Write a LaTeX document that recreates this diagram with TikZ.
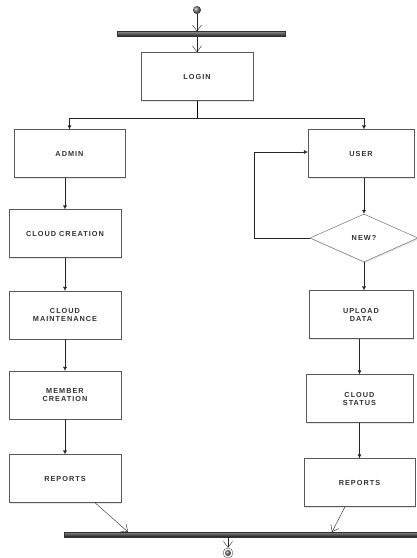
\documentclass[tikz,border=0pt]{standalone}
\usepackage{fontspec}
\setmainfont{Liberation Sans}
\usetikzlibrary{arrows.meta,shapes.geometric,shadows}
\tikzset{
	box/.style={draw=black!65,thin,fill=white,minimum width=112pt,minimum height=48pt,
			align=center,inner sep=1pt,text=black!80,
			font=\fontsize{7.3}{8}\selectfont\bfseries\addfontfeature{LetterSpace=14},
			drop shadow={opacity=0.2,shadow xshift=1.2pt,shadow yshift=-1.2pt}},
	decision/.style={box,diamond,drop shadow={opacity=0},minimum width=108pt,minimum height=48pt,aspect=2.25,inner sep=0pt},
	bar/.style={draw=black!80,very thin,rectangle,inner sep=0pt,minimum height=5pt,
			top color=black!45,bottom color=black!90},
	flow/.style={draw=black!85,-{Latex[length=4pt,width=4pt]}},
	fork/.style={draw=black!85,-{Straight Barb[length=6pt,width=9pt]}}
}
\begin{document}
\begin{tikzpicture}[x=1pt,y=-1pt]
			\useasboundingbox (0,0) rectangle (416,558);
			% start, top bar and login
			\node[circle,ball color=black!55,minimum width=8pt,minimum height=6.5pt,inner sep=0pt] (start) at (197,10) {};
			\node[bar,minimum width=168pt] (topbar) at (201,34) {};
			\node[box] (login) at (197,76.5) {LOGIN};
			% left column
			\node[box,minimum width=111pt] (admin) at (69.5,153.5) {ADMIN};
			\node[box] (cloudcreate) at (65,233.5) {CLOUD CREATION};
			\node[box] (cloudmaint) at (65,315) {CLOUD\\MAINTENANCE};
			\node[box] (member) at (65,395) {MEMBER\\CREATION};
			\node[box] (reportsL) at (65,478.5) {REPORTS};
			% right column
			\node[box,minimum width=106pt] (user) at (361,153.5) {USER};
			\node[decision] (new) at (364,238) {NEW?};
			\node[box,minimum width=104pt] (upload) at (361,314.5) {UPLOAD\\DATA};
			\node[box,minimum width=107pt] (status) at (359.5,398.5) {CLOUD\\STATUS};
			\node[box,minimum width=111pt] (reportsR) at (359.5,482.5) {REPORTS};
			% bottom bar and end
			\node[bar,minimum width=356pt] (botbar) at (242,534.5) {};
			\coordinate (joinL) at (128,532);
			\coordinate (joinR) at (332,532);
			\node[circle,draw=black!70,fill=white,minimum size=10pt,inner sep=0pt] (end) at (228,553) {};
			\node[circle,ball color=black!55,minimum size=6pt,inner sep=0pt] (endin) at (end) {};
			% connectors
			\draw[fork] (start) -- (topbar.north -| start);
			\draw[fork] (topbar.south -| login) -- (login.north);
			\draw (login.south) -- ++(0,17) coordinate (split);
			\draw[flow] (split) -| (admin.north);
			\draw[flow] (split) -| (user.north -| new);
			\draw[flow] (admin.south -| cloudcreate) -- (cloudcreate.north);
			\draw[flow] (cloudcreate) -- (cloudmaint);
			\draw[flow] (cloudmaint) -- (member);
			\draw[flow] (member) -- (reportsL);
			\draw[flow] (user.south -| new) -- (new.north);
			\draw[flow] (new.west) -- ++(-56,0) |- (user.west |- 0,152);
			\draw[flow] (new.south) -- (upload.north -| new);
			\draw[flow] (upload.south -| status) -- (status.north);
			\draw[flow] (status) -- (reportsR);
			\draw[fork] (reportsL.south -| 95,0) -- (joinL);
			\draw[fork] (reportsR.south -| 345,0) -- (joinR);
			\draw[fork] (botbar.south -| end) -- (end.north);
		\end{tikzpicture}
\end{document}
